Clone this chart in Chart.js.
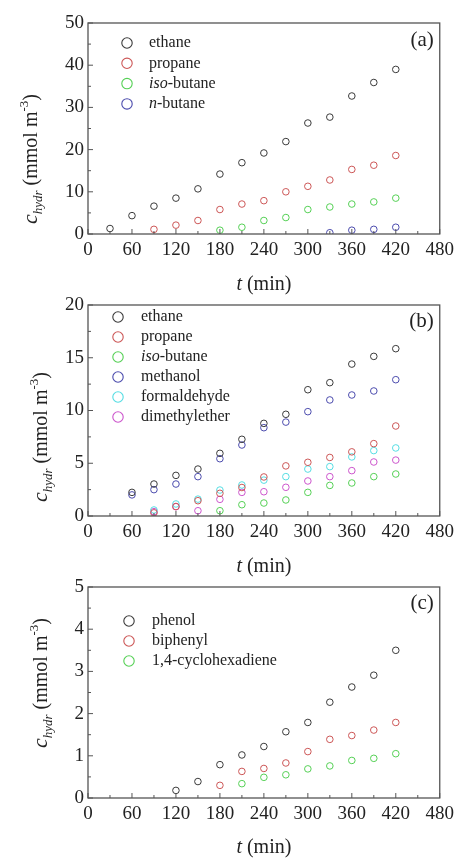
<!DOCTYPE html>
<html>
<head>
<meta charset="utf-8">
<script src="https://cdn.jsdelivr.net/npm/chart.js@4.4.0/dist/chart.umd.min.js"></script>
<style>
html,body{margin:0;padding:0;background:#fff;}
#wrap{position:relative;width:459px;height:858px;overflow:hidden;background:#fff;}
canvas{position:absolute;left:0;}
</style>
</head>
<body>
<div id="wrap">
  <canvas id="chartA" width="459" height="300" style="top:0px"></canvas>
  <canvas id="chartB" width="459" height="295" style="top:285px"></canvas>
  <canvas id="chartC" width="459" height="290" style="top:568px"></canvas>
</div>
<script>
const $ = id => document.getElementById(id);
const FONT = '"Liberation Serif", "Times New Roman", serif';

// ---------------- DATA ----------------
const times = [30, 60, 90, 120, 150, 180, 210, 240, 270, 300, 330, 360, 390, 420];
const xTickValues = [0, 60, 120, 180, 240, 300, 360, 420, 480];

// (a)
const labelsA = ['ethane', 'propane', 'iso-butane', 'n-butane'];
const ethaneA  = [1.3, 4.35, 6.6, 8.5, 10.7, 14.2, 16.9, 19.2, 21.9, 26.3, 27.7, 32.7, 35.9, 39.0];
const propaneA = [null, null, 1.1, 2.1, 3.2, 5.8, 7.1, 7.9, 10.0, 11.3, 12.8, 15.3, 16.3, 18.6];
const isoButaneA = [null, null, null, null, null, 0.9, 1.6, 3.2, 3.9, 5.8, 6.4, 7.1, 7.6, 8.5];
const nButaneA = [null, null, null, null, null, null, null, null, null, null, 0.3, 0.9, 1.1, 1.6];

// (b)
const labelsB = ['ethane', 'propane', 'iso-butane', 'methanol', 'formaldehyde', 'dimethylether'];
const ethaneB  = [null, 2.24, 3.03, 3.85, 4.45, 5.94, 7.27, 8.78, 9.64, 11.97, 12.64, 14.4, 15.13, 15.86];
const propaneB = [null, null, 0.3, 0.9, 1.45, 2.15, 2.7, 3.7, 4.75, 5.09, 5.55, 6.08, 6.86, 8.53];
const isoButaneB = [null, null, null, null, null, 0.5, 1.07, 1.23, 1.52, 2.24, 2.9, 3.13, 3.73, 3.98];
const methanolB = [null, 2.0, 2.5, 3.03, 3.73, 5.43, 6.73, 8.37, 8.9, 9.89, 11.0, 11.47, 11.85, 12.92];
const formaldehydeB = [null, null, 0.57, 1.14, 1.6, 2.46, 2.94, 3.4, 3.73, 4.45, 4.68, 5.6, 6.2, 6.45];
const dmeB = [null, null, 0.41, 0.88, 0.5, 1.58, 2.24, 2.3, 2.72, 3.32, 3.73, 4.3, 5.12, 5.3];

// (c)
const labelsC = ['phenol', 'biphenyl', '1,4-cyclohexadiene'];
const phenolC = [null, null, null, 0.18, 0.39, 0.79, 1.02, 1.22, 1.57, 1.79, 2.27, 2.63, 2.91, 3.5];
const biphenylC = [null, null, null, null, null, 0.3, 0.63, 0.7, 0.83, 1.1, 1.39, 1.48, 1.61, 1.79];
const chdC = [null, null, null, null, null, null, 0.34, 0.49, 0.55, 0.69, 0.76, 0.89, 0.94, 1.05];

const black = '#3a3a3a', red = '#cc5656', green = '#55d055', blue = '#4b4bad', cyan = '#55dde3', magenta = '#cc55cc';
const italicPrefixes = ['iso', 'n'];

// ---------------- DRAW HELPERS ----------------
function drawLegend(ctx, labels, colors, lg){
  labels.forEach((lab, i) => {
    const y = lg.y0 + i * lg.dy;
    ctx.beginPath();
    ctx.arc(lg.cx, y, 5.2, 0, Math.PI * 2);
    ctx.strokeStyle = colors[i];
    ctx.lineWidth = 1.1;
    ctx.stroke();
    ctx.fillStyle = '#222';
    ctx.textBaseline = 'middle';
    ctx.textAlign = 'left';
    let x = lg.tx;
    const dash = lab.indexOf('-');
    if (dash > 0 && italicPrefixes.includes(lab.slice(0, dash))) {
      ctx.font = 'italic 16px ' + FONT;
      ctx.fillText(lab.slice(0, dash), x, y);
      x += ctx.measureText(lab.slice(0, dash)).width;
      ctx.font = '16px ' + FONT;
      ctx.fillText(lab.slice(dash), x, y);
    } else {
      ctx.font = '16px ' + FONT;
      ctx.fillText(lab, x, y);
    }
  });
}

function drawYTitle(ctx, x, y){
  ctx.save();
  ctx.translate(x, y);
  ctx.rotate(-Math.PI / 2);
  ctx.fillStyle = '#222';
  ctx.textBaseline = 'alphabetic';
  ctx.textAlign = 'left';
  let px = 0;
  const part = (txt, font, dy) => {
    ctx.font = font;
    ctx.fillText(txt, px, dy);
    px += ctx.measureText(txt).width;
  };
  part('c', 'italic 22px ' + FONT, 0);
  part('hydr', 'italic 13px ' + FONT, 5);
  part(' (mmol m', '20px ' + FONT, 0);
  part('-3', '13px ' + FONT, -9);
  part(')', '20px ' + FONT, 0);
  ctx.restore();
}

function drawXTitle(ctx, cx, y){
  ctx.fillStyle = '#222';
  ctx.textBaseline = 'alphabetic';
  ctx.textAlign = 'left';
  ctx.font = 'italic 20px ' + FONT;
  const w1 = ctx.measureText('t').width;
  ctx.font = '20px ' + FONT;
  const w2 = ctx.measureText(' (min)').width;
  let x = cx - (w1 + w2) / 2;
  ctx.font = 'italic 20px ' + FONT;
  ctx.fillText('t', x, y);
  ctx.font = '20px ' + FONT;
  ctx.fillText(' (min)', x + w1, y);
}

// frame, inward ticks, legend, titles
const framePlugin = {
  id: 'frame',
  afterDraw(chart){
    const o = chart.options.plugins.frame;
    const ctx = chart.ctx;
    const a = chart.chartArea;
    const xs = chart.scales.x, ys = chart.scales.y;
    ctx.save();
    ctx.strokeStyle = '#555';
    ctx.lineWidth = 1.3;
    ctx.strokeRect(a.left, a.top, a.right - a.left, a.bottom - a.top);
    ctx.lineWidth = 1;
    ctx.beginPath();
    for (let v = 0; v <= 480; v += 30) {
      const px = xs.getPixelForValue(v);
      const len = v % 60 === 0 ? 5 : 3;
      ctx.moveTo(px, a.bottom);
      ctx.lineTo(px, a.bottom - len);
    }
    const half = o.yStep / 2;
    for (let k = 0; k * half <= o.yMax + 1e-9; k++) {
      const py = ys.getPixelForValue(k * half);
      const len = k % 2 === 0 ? 5 : 3;
      ctx.moveTo(a.left, py);
      ctx.lineTo(a.left + len, py);
    }
    ctx.stroke();

    drawLegend(ctx, o.labels, o.colors, o.legend);
    drawYTitle(ctx, o.yTitle.x, o.yTitle.y);
    drawXTitle(ctx, (a.left + a.right) / 2, o.xTitleY);

    ctx.fillStyle = '#222';
    ctx.font = '21px ' + FONT;
    ctx.textAlign = 'right';
    ctx.textBaseline = 'alphabetic';
    ctx.fillText(o.tag, a.right - 6, o.tagY);
    ctx.restore();
  }
};

function makePanel(id, p){
  const datasets = p.series.map((vals, i) => ({
    label: p.labels[i],
    data: times.map((t, j) => ({x: t, y: vals[j]})).filter(d => d.y !== null),
    borderColor: p.colors[i],
    backgroundColor: 'rgba(0,0,0,0)',
    pointRadius: 3.3,
    pointBorderWidth: 1,
    showLine: false
  }));
  const canvasH = $(id).height;
  return new Chart($(id).getContext('2d'), {
    type: 'scatter',
    data: { datasets: datasets },
    options: {
      responsive: false,
      animation: false,
      layout: { padding: { top: p.padTop, right: 17, bottom: 0, left: 0 } },
      plugins: {
        legend: { display: false },
        tooltip: { enabled: false },
        frame: {
          labels: p.labels, colors: p.colors, legend: p.legend,
          yTitle: p.yTitle, xTitleY: p.xTitleY, tag: p.tag, tagY: p.tagY,
          yMax: p.yMax, yStep: p.yStep
        }
      },
      scales: {
        x: {
          type: 'linear', min: 0, max: 480,
          afterBuildTicks: s => { s.ticks = xTickValues.map(v => ({value: v})); },
          afterFit: s => { s.height = canvasH - p.bottom; },
          grid: { display: false, drawTicks: false },
          border: { display: false },
          ticks: { font: { family: FONT, size: 19 }, color: '#222', padding: 5, maxRotation: 0, autoSkip: false }
        },
        y: {
          type: 'linear', min: 0, max: p.yMax,
          afterFit: s => { s.width = 88; },
          grid: { display: false, drawTicks: false },
          border: { display: false },
          ticks: { stepSize: p.yStep, font: { family: FONT, size: 19 }, color: '#222', padding: 4 }
        }
      }
    },
    plugins: [framePlugin]
  });
}

window.onload = () => {
  makePanel('chartA', {
    labels: labelsA,
    series: [ethaneA, propaneA, isoButaneA, nButaneA],
    colors: [black, red, green, blue],
    yMax: 50, yStep: 10,
    padTop: 23, bottom: 234,
    legend: { cx: 127, tx: 149, y0: 43, dy: 20.3 },
    yTitle: { x: 37, y: 224 },
    xTitleY: 290, tag: '(a)', tagY: 46
  });
  makePanel('chartB', {
    labels: labelsB,
    series: [ethaneB, propaneB, isoButaneB, methanolB, formaldehydeB, dmeB],
    colors: [black, red, green, blue, cyan, magenta],
    yMax: 20, yStep: 5,
    padTop: 20, bottom: 231,
    legend: { cx: 118, tx: 141, y0: 32, dy: 20 },
    yTitle: { x: 47, y: 217 },
    xTitleY: 287, tag: '(b)', tagY: 42
  });
  makePanel('chartC', {
    labels: labelsC,
    series: [phenolC, biphenylC, chdC],
    colors: [black, red, green],
    yMax: 5, yStep: 1,
    padTop: 19, bottom: 230,
    legend: { cx: 129, tx: 152, y0: 53, dy: 20 },
    yTitle: { x: 47, y: 180 },
    xTitleY: 285, tag: '(c)', tagY: 41
  });
};
</script>
</body>
</html>
